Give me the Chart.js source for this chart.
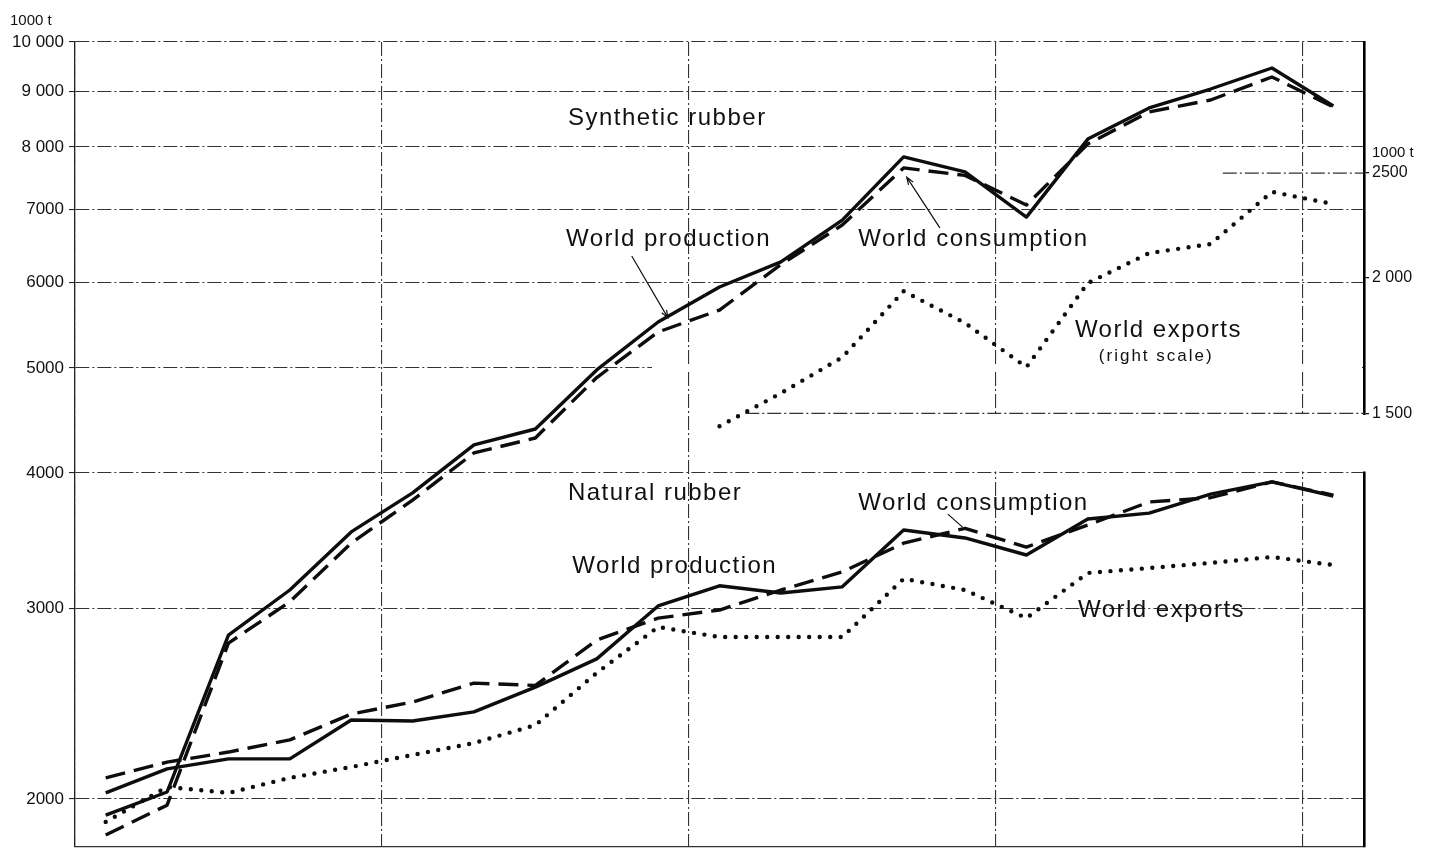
<!DOCTYPE html>
<html>
<head>
<meta charset="utf-8">
<script src="https://cdn.jsdelivr.net/npm/chart.js@4.4.1/dist/chart.umd.min.js"></script>
<style>
  html, body { margin: 0; padding: 0; background: #fff; }
  #wrap { width: 1432px; height: 850px; }
</style>
</head>
<body>
<div id="wrap"><canvas id="rubberChart" width="1432" height="850"></canvas></div>
<script>
// one point per year, drawn in the middle of the year
const years = [1960, 1961, 1962, 1963, 1964, 1965, 1966, 1967, 1968, 1969, 1970,
               1971, 1972, 1973, 1974, 1975, 1976, 1977, 1978, 1979, 1980];

// synthetic rubber, 1000 t (left scale)
const synProduction  = [1933, 2030, 2834, 3119, 3529, 3834, 4246, 4392, 4980, 5514, 5940,
                        6265, 6848, 7832, 7586, 6892, 8135, 8692, 9049, 9462, 8728];
const synConsumption = [1853, 1974, 2786, 3042, 3446, 3776, 4174, 4309, 4900, 5398, 5656,
                        6230, 6777, 7651, 7530, 7071, 8050, 8620, 8840, 9283, 8710];
// synthetic rubber exports, 1000 t (right scale), only from 1970
const synExports     = [null, null, null, null, null, null, null, null, null, null, 1460,
                        1566, 1690, 1945, 1818, 1655, 1979, 2109, 2150, 2402, 2341];

// natural rubber, 1000 t (left scale)
const natProduction  = [2026, 2132, 2178, 2178, 2366, 2361, 2407, 2537, 2694, 3015, 3147,
                        3099, 3140, 3543, 3484, 3360, 3627, 3673, 3824, 3925, 3809];
const natConsumption = [2092, 2163, 2210, 2268, 2396, 2458, 2559, 2546, 2804, 2938, 2989,
                        3119, 3241, 3446, 3556, 3417, 3581, 3761, 3795, 3925, 3816];
const natExports     = [1905, 2052, 2026, 2092, 2141, 2196, 2253, 2340, 2615, 2883, 2822,
                        2822, 2822, 3194, 3119, 2938, 3234, 3268, 3304, 3346, 3289];

// axis ticks
const leftTicks = [2000, 3000, 4000, 5000, 6000, 7000, 8000, 9000, 10000];
const leftTickLabels = ['2000', '3000', '4000', '5000', '6000', '7000', '8 000', '9 000', '10 000'];
const rightTicks = [1500, 2000, 2500];
const rightTickLabels = ['1 500', '2 000', '2500'];
const yearTicks = [1960, 1965, 1970, 1975, 1980];

// text written inside the plot (year, left-scale value)
const labelSpots = [
    { text: 'Synthetic rubber', year: 1968.03, value: 8507 },
    { text: 'World production', year: 1968.0, value: 6566 },
    { text: 'World consumption', year: 1972.76, value: 6566 },
    { text: 'World exports', year: 1976.29, value: 5420 },
    { text: '(right scale)', year: 1976.68, value: 5129, small: true },
    { text: 'Natural rubber', year: 1968.03, value: 3833 },
    { text: 'World consumption', year: 1972.76, value: 3752 },
    { text: 'World production', year: 1968.1, value: 3283 },
    { text: 'World exports', year: 1976.34, value: 2989 }
];
// leader lines from a label to its curve
const leaders = [
    { from: [1969.07, 6344], to: [1969.66, 5563], arrow: true },
    { from: [1974.09, 6735], to: [1973.55, 7503], arrow: true },
    { from: [1974.22, 3665], to: [1974.46, 3565], arrow: false }
];

const FONT = "'Liberation Sans', Arial, sans-serif";
const gridDash = [14, 3, 2, 3];

const toPoints = arr => arr
    .map((v, i) => ({ x: years[i] + 0.5, y: v }))
    .filter(p => p.y !== null);

function lineSet(label, values, style, axis) {
    const base = {
        label: label,
        data: toPoints(values),
        yAxisID: axis,
        borderColor: '#0d0d0d',
        pointRadius: 0,
        tension: 0,
        fill: false,
        borderJoinStyle: 'round'
    };
    if (style === 'solid') {
        base.borderWidth = 3.4;
    } else if (style === 'dashed') {
        base.borderWidth = 3.4;
        base.borderDash = [20, 9];
    } else {
        base.borderWidth = 4.4;
        base.borderDash = [0, 10.5];
        base.borderCapStyle = 'round';
    }
    return base;
}

// white gap between the synthetic and natural panels on the right, labels, unit titles
const panelFrame = {
    id: 'panelFrame',
    beforeDatasetsDraw(chart) {
        const { ctx, chartArea, scales: { x, y, y1 } } = chart;
        ctx.save();
        ctx.fillStyle = '#fff';
        const gapLeft = x.getPixelForValue(1970.5);
        const gapTop = y1.getPixelForValue(1500) + 1.5;
        const gapBottom = y.getPixelForValue(4000) - 1.5;
        ctx.fillRect(gapLeft, gapTop, chartArea.right + 4 - gapLeft, gapBottom - gapTop);
        const y5 = y.getPixelForValue(5000);
        const cut = x.getPixelForValue(1969.4);
        ctx.fillRect(cut, y5 - 2, chartArea.right - cut - 2, 4);

        ctx.strokeStyle = '#333';
        ctx.lineWidth = 1.2;
        ctx.setLineDash(gridDash);
        const y15 = y1.getPixelForValue(1500);
        ctx.beginPath();
        ctx.moveTo(x.getPixelForValue(1970.92), y15);
        ctx.lineTo(chartArea.right, y15);
        const y25 = y1.getPixelForValue(2500);
        ctx.moveTo(x.getPixelForValue(1978.7), y25);
        ctx.lineTo(chartArea.right, y25);
        ctx.stroke();
        ctx.restore();
    },
    afterDatasetsDraw(chart) {
        const { ctx, scales: { x, y, y1 } } = chart;
        ctx.save();
        ctx.fillStyle = '#111';
        ctx.textBaseline = 'middle';
        ctx.textAlign = 'left';
        labelSpots.forEach(l => {
            ctx.font = (l.small ? '17px ' : '24px ') + FONT;
            ctx.letterSpacing = l.small ? '2px' : '1.5px';
            ctx.fillText(l.text, x.getPixelForValue(l.year), y.getPixelForValue(l.value));
        });
        ctx.letterSpacing = '0px';

        ctx.strokeStyle = '#111';
        ctx.lineWidth = 1.2;
        leaders.forEach(d => {
            const x0 = x.getPixelForValue(d.from[0]), y0 = y.getPixelForValue(d.from[1]);
            const x1 = x.getPixelForValue(d.to[0]), y1p = y.getPixelForValue(d.to[1]);
            ctx.beginPath();
            ctx.moveTo(x0, y0);
            ctx.lineTo(x1, y1p);
            if (d.arrow) {
                const a = Math.atan2(y1p - y0, x1 - x0);
                ctx.moveTo(x1 - 8 * Math.cos(a - 0.35), y1p - 8 * Math.sin(a - 0.35));
                ctx.lineTo(x1, y1p);
                ctx.lineTo(x1 - 8 * Math.cos(a + 0.35), y1p - 8 * Math.sin(a + 0.35));
            }
            ctx.stroke();
        });

        // unit titles above both scales
        ctx.font = '15px ' + FONT;
        ctx.textBaseline = 'alphabetic';
        ctx.fillText('1000 t', 10, y.getPixelForValue(10000) - 17);
        ctx.fillText('1000 t', y1.left + 8, y1.getPixelForValue(2500) - 16);
        ctx.restore();
    }
};

const chart = new Chart(document.getElementById('rubberChart').getContext('2d'), {
    type: 'line',
    data: {
        datasets: [
            lineSet('Synthetic rubber – world production', synProduction, 'solid', 'y'),
            lineSet('Synthetic rubber – world consumption', synConsumption, 'dashed', 'y'),
            lineSet('Synthetic rubber – world exports', synExports, 'dotted', 'y1'),
            lineSet('Natural rubber – world production', natProduction, 'solid', 'y'),
            lineSet('Natural rubber – world consumption', natConsumption, 'dashed', 'y'),
            lineSet('Natural rubber – world exports', natExports, 'dotted', 'y')
        ]
    },
    plugins: [panelFrame],
    options: {
        responsive: false,
        animation: false,
        devicePixelRatio: 1,
        layout: { padding: { top: 42, bottom: 3, left: 0, right: 0 } },
        plugins: {
            legend: { display: false },
            tooltip: { enabled: false }
        },
        scales: {
            x: {
                type: 'linear',
                min: 1960,
                max: 1981,
                afterBuildTicks: scale => { scale.ticks = yearTicks.map(v => ({ value: v })); },
                afterFit: scale => { scale.height = 0; scale.paddingLeft = 0; scale.paddingRight = 0; },
                ticks: { display: false },
                grid: { color: '#333', lineWidth: 1.1, drawTicks: false },
                border: { display: true, color: '#333', width: 1.2, dash: gridDash }
            },
            y: {
                type: 'logarithmic',
                position: 'left',
                min: 1806,
                max: 10000,
                afterBuildTicks: scale => { scale.ticks = leftTicks.map(v => ({ value: v })); },
                afterFit: scale => { scale.width = 75; scale.paddingTop = 0; scale.paddingBottom = 0; },
                ticks: {
                    color: '#111',
                    padding: 5,
                    font: { family: FONT, size: 17 },
                    callback: v => leftTickLabels[leftTicks.indexOf(v)] ?? ''
                },
                grid: { color: '#333', lineWidth: 1.1, tickLength: 6, tickColor: '#222' },
                border: { display: true, color: '#222', width: 1.3, dash: gridDash }
            },
            y1: {
                type: 'logarithmic',
                position: 'right',
                min: 597,
                max: 3303,
                afterBuildTicks: scale => { scale.ticks = rightTicks.map(v => ({ value: v })); },
                afterFit: scale => { scale.width = 68; scale.paddingTop = 0; scale.paddingBottom = 0; },
                ticks: {
                    color: '#111',
                    padding: 3,
                    font: { family: FONT, size: 16 },
                    callback: v => rightTickLabels[rightTicks.indexOf(v)] ?? ''
                },
                grid: { drawOnChartArea: false, tickLength: 5, tickColor: '#111', lineWidth: 1.3 },
                border: { display: true, color: '#000', width: 2.6 }
            }
        }
    }
});
</script>
</body>
</html>
